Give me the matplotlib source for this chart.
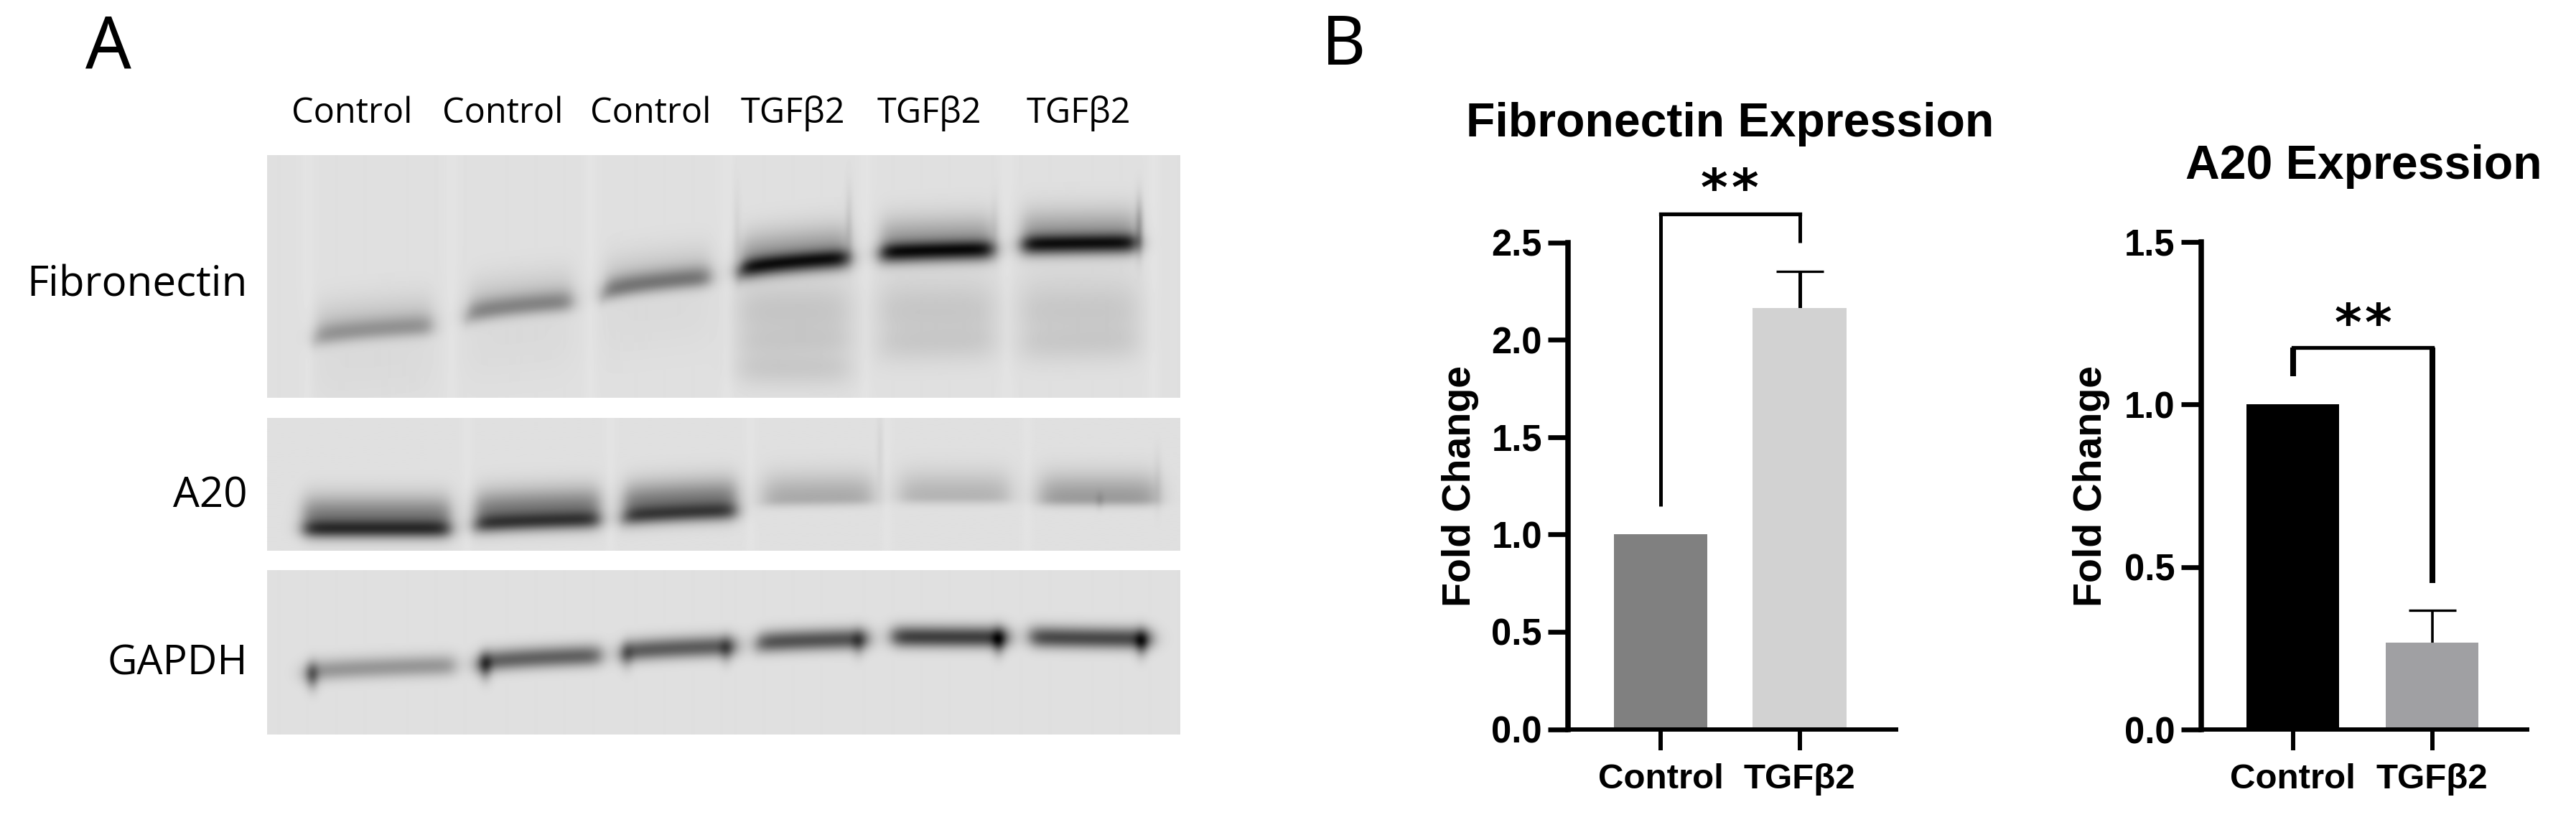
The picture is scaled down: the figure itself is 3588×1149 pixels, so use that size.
import numpy as np
import matplotlib
matplotlib.use("Agg")
import matplotlib.pyplot as plt

W, H = 3588, 1149

# bar chart values
groups = ['Control', 'TGFβ2']
fn_values = [1.0, 2.163]
fn_err = [0, 0.186]
a20_values = [1.0, 0.267]
a20_err = [0, 0.10]
fn_colors = ['#808080', '#d2d2d2']
a20_colors = ['#000000', '#a0a0a3']
fn_ticks = [0, 0.5, 1.0, 1.5, 2.0, 2.5]
a20_ticks = [0, 0.5, 1.0, 1.5]
fn_bracket = [1.145, 2.646, 2.498]
a20_bracket = [1.087, 1.176, 0.45]

# western blot bands, in picture pixels
lane_labels = ['Control', 'Control', 'Control', 'TGFβ2', 'TGFβ2', 'TGFβ2']
lane_label_x = [490, 700, 906, 1104, 1294, 1502]

fn_x0 = [439, 651, 840, 1030, 1226, 1423]
fn_x1 = [602, 797, 989, 1182, 1383, 1583]
fn_y0 = [471, 440, 409, 379, 354, 342]
fn_y1 = [453, 419, 385, 360, 348, 339]
fn_grey = [140, 125, 110, 10, 5, 10]

a20_x0 = [423, 662, 868, 1063, 1253, 1448]
a20_x1 = [627, 835, 1025, 1215, 1405, 1611]
a20_y0 = [738, 733, 723, 700, 695, 698]
a20_y1 = [738, 725, 713, 697, 695, 698]
a20_grey = [35, 45, 50, 170, 180, 155]

gapdh_x0 = [423, 664, 865, 1054, 1242, 1434]
gapdh_x1 = [634, 837, 1025, 1209, 1404, 1603]
gapdh_y0 = [938, 925, 910, 897, 887, 887]
gapdh_y1 = [927, 913, 900, 890, 888, 890]
gapdh_grey = [150, 95, 90, 80, 60, 70]


def px_axes(x0, y0, x1, y1):
    return fig.add_axes([x0 / W, 1 - y1 / H, (x1 - x0) / W, (y1 - y0) / H])


def px_text(x, y, s, **kw):
    fig.text(x / W, 1 - y / H, s, **kw)


def add_band(img, X, Y, x0, x1, y0, y1, grey, su, sd, soft=6, bg=224):
    # one lane: bowed band with a soft edge on both sides
    t = np.clip((X - x0) / (x1 - x0), 0, 1)
    yc = y0 + (y1 - y0) * np.sqrt(t)
    s = np.where(Y < yc, su, sd)
    edge = 1 / (1 + np.exp((x0 - X) / soft)) / (1 + np.exp((X - x1) / soft))
    img -= (bg - grey) * np.exp(-0.5 * ((Y - yc) / s) ** 2) * edge


def add_spot(img, X, Y, x, y, depth, sx=6, sy=13):
    img -= depth * np.exp(-0.5 * ((X - x) / sx) ** 2 - 0.5 * ((Y - y) / sy) ** 2)


def add_streak(img, X, x, amount, sx=5):
    img += amount * np.exp(-0.5 * ((X - x) / sx) ** 2)


def blur(img, sigma):
    r = int(3 * sigma)
    k = np.exp(-0.5 * (np.arange(-r, r + 1) / sigma) ** 2)
    k /= k.sum()
    padded = np.pad(img, r, mode='edge')
    padded = np.apply_along_axis(lambda v: np.convolve(v, k, mode='same'), 0, padded)
    padded = np.apply_along_axis(lambda v: np.convolve(v, k, mode='same'), 1, padded)
    return padded[r:-r, r:-r]


def show_blot(img, box):
    ax = px_axes(*box)
    ax.imshow(np.clip(blur(img, 2.5), 0, 255), cmap='gray', vmin=0, vmax=255, aspect='auto',
              extent=(box[0], box[2], box[3], box[1]), interpolation='bilinear')
    ax.axis('off')


def grid(box):
    xs = np.arange(box[0], box[2]) + 0.5
    ys = np.arange(box[1], box[3]) + 0.5
    X, Y = np.meshgrid(xs, ys)
    return X, Y, np.full(X.shape, 224.0)


fig = plt.figure(figsize=(W / 100, H / 100), dpi=100, facecolor='white')

# Fibronectin blot
box = (372, 216, 1643, 554)
X, Y, img = grid(box)
for i in range(6):
    if i < 3:
        add_band(img, X, Y, fn_x0[i], fn_x1[i], fn_y0[i] + 2, fn_y1[i] + 2, fn_grey[i] + 30, 12, 9)
        add_band(img, X, Y, fn_x0[i], fn_x1[i], fn_y0[i] - 8, fn_y1[i] - 8, 198, 26, 14)
    else:
        add_band(img, X, Y, fn_x0[i], fn_x1[i], fn_y0[i], fn_y1[i], fn_grey[i] + 70, 9, 10)
        add_band(img, X, Y, fn_x0[i], fn_x1[i], fn_y0[i] - 8, fn_y1[i] - 8, 145, 26, 14)
    add_band(img, X, Y, fn_x0[i], fn_x1[i], fn_y0[i] + 45, fn_y1[i] + 45, 218, 40, 40, soft=10)
for i in range(3, 6):
    add_band(img, X, Y, fn_x0[i], fn_x1[i], 436, 436, 202, 28, 26, soft=10)
    add_band(img, X, Y, fn_x0[i], fn_x1[i], 482, 478, 206, 16, 20, soft=10)
add_band(img, X, Y, fn_x0[3], fn_x1[3], 515, 515, 204, 14, 18, soft=10)
for gap in [428, 628, 822, 1012, 1205, 1402, 1606]:
    add_streak(img, X, gap, 4, 6)
add_spot(img, X, Y, 1586, 315, 60, 3, 28)
add_spot(img, X, Y, 1182, 310, 25, 3, 35)
add_spot(img, X, Y, 1026, 320, 14, 3, 40)
add_spot(img, X, Y, 1385, 315, 14, 3, 30)
show_blot(img, box)

# A20 blot
box = (372, 582, 1643, 767)
X, Y, img = grid(box)
for i in range(6):
    if i < 3:
        add_band(img, X, Y, a20_x0[i], a20_x1[i], a20_y0[i], a20_y1[i], a20_grey[i] + 80, 8, 8)
        add_band(img, X, Y, a20_x0[i], a20_x1[i], a20_y0[i] - 14, a20_y1[i] - 14, 115, 22, 16)
    else:
        add_band(img, X, Y, a20_x0[i], a20_x1[i], a20_y0[i] - 3, a20_y1[i] - 3, a20_grey[i], 24, 7, soft=8)
for gap in [650, 850, 1045, 1235, 1430]:
    add_streak(img, X, gap, 4, 4)
add_spot(img, X, Y, 1531, 698, 22, 3, 8)
add_spot(img, X, Y, 1225, 625, 16, 2, 36)
add_spot(img, X, Y, 1612, 670, 14, 3, 30)
show_blot(img, box)

# GAPDH blot
box = (372, 794, 1643, 1023)
X, Y, img = grid(box)
for i in range(6):
    add_band(img, X, Y, gapdh_x0[i], gapdh_x1[i], gapdh_y0[i], gapdh_y1[i], gapdh_grey[i], 11, 10)
for i, end in enumerate([gapdh_x0[0] + 12, gapdh_x0[1] + 12, gapdh_x0[2] + 8]):
    add_spot(img, X, Y, end, gapdh_y0[i] + 4, 85 if i < 2 else 45)
for i in range(2, 6):
    add_spot(img, X, Y, gapdh_x1[i] - 14, gapdh_y1[i] + 6, 90 if i > 3 else 50)
show_blot(img, box)

# panel A text
blot_font = ['Open Sans', 'DejaVu Sans']
for x, lab in zip(lane_label_x, lane_labels):
    px_text(x, 158, lab, family=blot_font, fontsize=35, ha='center', va='center')
px_text(345, 397, 'Fibronectin', family=blot_font, fontsize=42, ha='right', va='center')
px_text(345, 691, 'A20', family=blot_font, fontsize=42, ha='right', va='center')
px_text(345, 925, 'GAPDH', family=blot_font, fontsize=41, ha='right', va='center')
px_text(151, 68, 'A', family='Noto Sans', fontsize=72, ha='center', va='center')
px_text(1872, 66, 'B', family='Noto Sans', fontsize=68, ha='center', va='center')


def bar_panel(box, center0, step, width, values, errs, colors, ticks, ymax, bracket, stem_lw,
              bracket_v_lw, title, title_xy, ylabel_x, star_x, star_y):
    ax = px_axes(*box)
    ax.bar([0, 1], values, width=width, color=colors, zorder=2)
    ax.vlines(1, values[1], values[1] + errs[1], color='black', lw=stem_lw, zorder=1)
    ax.plot([1], [values[1] + errs[1]], marker='_', ms=47, mew=2.4, color='black', zorder=1)
    ax.set_xlim((box[0] - center0) / step, (box[2] - center0) / step)
    ax.set_ylim(0, ymax)
    # significance bracket
    ax.plot([0, 1], [bracket[1], bracket[1]], color='black', lw=3.8, clip_on=False,
            solid_capstyle='projecting')
    ax.vlines(0, bracket[0], bracket[1], color='black', lw=bracket_v_lw, clip_on=False)
    ax.vlines(1, bracket[2], bracket[1], color='black', lw=bracket_v_lw, clip_on=False)
    for side in ['top', 'right']:
        ax.spines[side].set_visible(False)
    ax.spines['left'].set_linewidth(5.4)
    ax.spines['bottom'].set_linewidth(4.3)
    ax.set_xticks([0, 1], groups)
    ax.set_yticks(ticks, ['%.1f' % t for t in ticks])
    ax.tick_params(axis='y', length=20, width=4.8, pad=6, labelsize=36.5)
    ax.tick_params(axis='x', length=21, width=4.3, pad=13, labelsize=35.5)
    for lab in ax.get_xticklabels() + ax.get_yticklabels():
        lab.set_fontfamily('Liberation Sans')
        lab.set_fontweight('bold')
    ax.patch.set_alpha(0)
    px_text(title_xy[0], title_xy[1], title, family='Liberation Sans', fontweight='bold',
            fontsize=47.6, ha='center', va='center')
    px_text(ylabel_x, 677, 'Fold Change', family='Liberation Sans', fontweight='bold',
            fontsize=40, rotation=90, ha='center', va='center')
    for x in star_x:
        px_text(x, star_y, '*', family='DejaVu Sans', fontweight='bold',
                fontsize=52, ha='center', va='center')


bar_panel((2184, 337.5, 2641, 1015.5), 2313, 193.5, 0.677, fn_values, fn_err, fn_colors,
          fn_ticks, 2.5, fn_bracket, 3.6, 3.6, 'Fibronectin Expression', (2410, 173), 2034,
          [2387.5, 2430.5], 267)
bar_panel((3065.5, 337, 3520, 1016), 3193.5, 194, 0.67, a20_values, a20_err, a20_colors,
          a20_ticks, 1.5, a20_bracket, 2.6, 5.8, 'A20 Expression', (3292, 232), 2913,
          [3270, 3312.5], 455)

fig.savefig('out.png', dpi=100)
